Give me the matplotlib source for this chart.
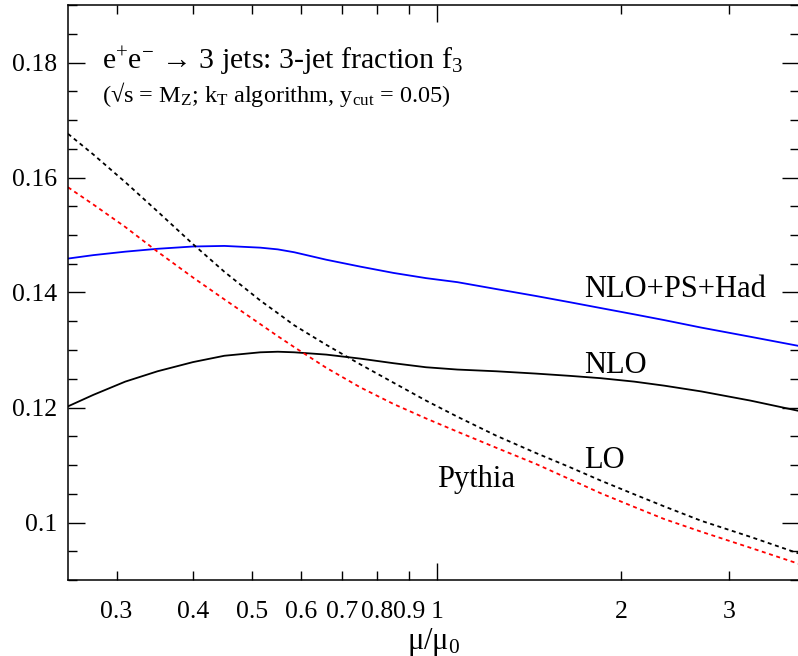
import matplotlib
matplotlib.use("Agg")
import matplotlib.pyplot as plt
from matplotlib.ticker import FixedLocator, FixedFormatter, MultipleLocator, FormatStrFormatter

plt.rcParams["font.family"] = ["Liberation Serif", "DejaVu Serif"]
plt.rcParams["mathtext.fontset"] = "custom"
plt.rcParams["mathtext.rm"] = "Liberation Serif"
plt.rcParams["mathtext.it"] = "Liberation Serif"
plt.rcParams["mathtext.default"] = "regular"

# renormalisation scale mu/mu0
mu = [0.25, 0.275, 0.31, 0.35, 0.40, 0.45, 0.515, 0.55, 0.585, 0.66, 0.75, 0.85,
      0.96, 1.08, 1.25, 1.45, 1.65, 1.85, 2.1, 2.35, 2.7, 3.25, 3.9]

f3_nlo_ps_had = [0.1459, 0.1465, 0.1471, 0.1476, 0.1480, 0.1481, 0.1478, 0.1475, 0.1470,
                 0.1457, 0.1445, 0.1434, 0.1425, 0.1418, 0.1406, 0.1394, 0.1383, 0.1373,
                 0.1362, 0.1352, 0.1339, 0.1323, 0.1307]
f3_nlo = [0.1202, 0.1222, 0.1245, 0.1263, 0.1279, 0.1290, 0.1296, 0.1297, 0.1296,
          0.1292, 0.1285, 0.1277, 0.1270, 0.1266, 0.1263, 0.1259, 0.1255, 0.1251,
          0.1245, 0.1238, 0.1228, 0.1212, 0.1194]
f3_lo = [0.1676, 0.1640, 0.1592, 0.1541, 0.1484, 0.1436, 0.1386, 0.1364, 0.1343,
         0.1309, 0.1275, 0.1243, 0.1212, 0.1184, 0.1151, 0.1121, 0.1096, 0.1073,
         0.1049, 0.1028, 0.1003, 0.0975, 0.0946]
f3_pythia = [0.1583, 0.1553, 0.1514, 0.1471, 0.1426, 0.1388, 0.1345, 0.1324, 0.1305,
             0.1269, 0.1235, 0.1206, 0.1181, 0.1158, 0.1130, 0.1102, 0.1075, 0.1051,
             0.1027, 0.1006, 0.0984, 0.0956, 0.0928]

x_minor_ticks = [0.3, 0.4, 0.5, 0.6, 0.7, 0.8, 0.9, 2, 3]
x_minor_labels = ["0.3", "0.4", "0.5", "0.6", "0.7", "0.8", "0.9", "2", "3"]

fig = plt.figure(figsize=(7.98, 6.56), dpi=100)
ax = fig.add_axes([68 / 798, 76 / 656, 731 / 798, 575 / 656])

dash = (0, (2.2, 2.0))
ax.plot(mu, f3_nlo_ps_had, color="#0000ff", lw=1.3)
ax.plot(mu, f3_nlo, color="black", lw=1.3)
ax.plot(mu, f3_lo, color="black", lw=1.3, linestyle=dash)
ax.plot(mu, f3_pythia, color="#ff0000", lw=1.3, linestyle=dash)

ax.set_xscale("log")
ax.set_xlim(0.25, 3.9)
ax.set_ylim(0.09, 0.19)

ax.xaxis.set_major_locator(FixedLocator([1]))
ax.xaxis.set_major_formatter(FixedFormatter(["1"]))
ax.xaxis.set_minor_locator(FixedLocator(x_minor_ticks))
ax.xaxis.set_minor_formatter(FixedFormatter(x_minor_labels))
ax.yaxis.set_major_locator(MultipleLocator(0.02))
ax.yaxis.set_major_formatter(FormatStrFormatter("%g"))
ax.yaxis.set_minor_locator(MultipleLocator(0.005))

ax.tick_params(which="both", direction="in", top=True, right=True, width=1.0,
               labelsize=18.5, colors="black")
ax.tick_params(which="major", length=12.5)
ax.tick_params(which="minor", length=6.5)
ax.tick_params(axis="x", which="both", pad=15)
ax.tick_params(axis="y", which="both", pad=8)
for s in ax.spines.values():
    s.set_linewidth(1.1)

ax.set_xlabel(r"$\mu/\mu_0$", fontsize=22, labelpad=2)

ax.text(0.046, 0.888, r"e$^{+}$e$^{-}$ → 3 jets: 3-jet fraction f$_{3}$",
        transform=ax.transAxes, fontsize=21.5, va="baseline")
ax.text(0.046, 0.832, r"(√s = M$_{Z}$; k$_{T}$ algorithm, y$_{cut}$ = 0.05)",
        transform=ax.transAxes, fontsize=17.5, va="baseline")

# curve labels
ax.text(1.74, 0.1392, "NLO+PS+Had", fontsize=22, va="baseline")
ax.text(1.74, 0.1260, "NLO", fontsize=22, va="baseline")
ax.text(1.74, 0.1095, "LO", fontsize=22, va="baseline")
ax.text(1.0, 0.1062, "Pythia", fontsize=22, va="baseline")

fig.savefig("out.png", dpi=100)
